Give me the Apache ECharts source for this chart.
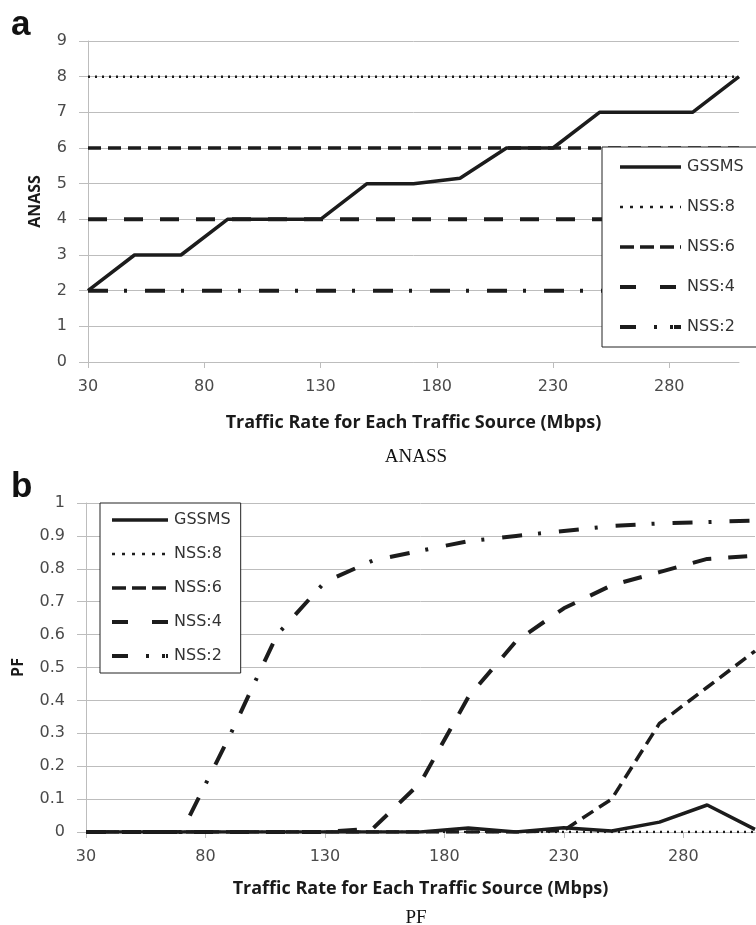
<!DOCTYPE html>
<html>
<head>
<meta charset="utf-8">
<script src="https://cdn.jsdelivr.net/npm/echarts@6/dist/echarts.min.js"></script>
<style>
  html, body { margin: 0; padding: 0; background: #fff; }
  #chart { width: 756px; height: 925px; }
</style>
</head>
<body>
<div id="chart"></div>
<script>
// traffic rate (Mbps) for each point
var rates = [30, 50, 70, 90, 110, 130, 150, 170, 190, 210, 230, 250, 270, 290, 310];
var seriesNames = ['GSSMS', 'NSS:8', 'NSS:6', 'NSS:4', 'NSS:2'];

// (a) ANASS
var anassGssms = [2, 3, 3, 4, 4, 4, 5, 5, 5.15, 6, 6, 7, 7, 7, 8];
var anassNss8 = [8, 8, 8, 8, 8, 8, 8, 8, 8, 8, 8, 8, 8, 8, 8];
var anassNss6 = [6, 6, 6, 6, 6, 6, 6, 6, 6, 6, 6, 6, 6, 6, 6];
var anassNss4 = [4, 4, 4, 4, 4, 4, 4, 4, 4, 4, 4, 4, 4, 4, 4];
var anassNss2 = [2, 2, 2, 2, 2, 2, 2, 2, 2, 2, 2, 2, 2, 2, 2];

// (b) PF
var pfGssms = [0, 0, 0, 0, 0, 0, 0, 0, 0.012, 0, 0.013, 0.003, 0.03, 0.082, 0.008];
var pfNss8 = [0, 0, 0, 0, 0, 0, 0, 0, 0, 0, 0, 0, 0, 0, 0];
var pfNss6 = [0, 0, 0, 0, 0, 0, 0, 0, 0, 0, 0.005, 0.1, 0.33, 0.44, 0.55];
var pfNss4 = [0, 0, 0, 0, 0, 0, 0.01, 0.15, 0.41, 0.58, 0.68, 0.75, 0.79, 0.83, 0.84];
var pfNss2 = [0, 0, 0, 0.29, 0.6, 0.76, 0.825, 0.855, 0.884, 0.9, 0.915, 0.93, 0.938, 0.942, 0.947];

var xTitle = 'Traffic Rate for Each Traffic Source (Mbps)';
var lineColor = '#1c1c1c';
var gridColor = '#bdbdbd';
var labelColor = '#4a4a4a';

var styles = [
    { width: 3.5, type: 'solid' },
    { width: 2.5, type: [2, 5] },
    { width: 3.5, type: [13, 7] },
    { width: 4, type: [19, 17] },
    { width: 4, type: [20, 16, 3, 18] }
];
// dash patterns as drawn inside the legend boxes
var legendDash = ['solid', [3, 7], [14, 6], [16, 24], [16, 18, 3, 13, 3, 1]];

function pairs(values) {
    return rates.map(function (r, i) { return [r, values[i]]; });
}

function buildSeries(list, idx) {
    // draw GSSMS last so it sits on top
    var out = [];
    for (var i = list.length - 1; i >= 0; i--) {
        out.push({
            name: seriesNames[i],
            type: 'line',
            xAxisIndex: idx,
            yAxisIndex: idx,
            symbol: 'none',
            data: pairs(list[i]),
            lineStyle: { color: lineColor, width: styles[i].width, type: styles[i].type },
            itemStyle: { color: lineColor },
            z: 10 - i
        });
    }
    return out;
}

function xAxisCfg(idx, gap) {
    return {
        type: 'value',
        gridIndex: idx,
        min: 30,
        max: 310,
        interval: 50,
        name: xTitle,
        nameLocation: 'middle',
        nameGap: gap,
        nameTextStyle: { fontFamily: 'Open Sans', fontWeight: 'bold', fontSize: 18, color: '#1a1a1a' },
        axisLine: { lineStyle: { color: gridColor, width: 1 } },
        axisTick: { show: true, length: 6, inside: false, lineStyle: { color: gridColor } },
        axisLabel: { showMaxLabel: false, margin: 17, fontFamily: '"DejaVu Sans"', fontSize: 16, color: labelColor },
        splitLine: { show: false }
    };
}

function yAxisCfg(idx, name, max, interval, gap) {
    return {
        type: 'value',
        gridIndex: idx,
        min: 0,
        max: max,
        interval: interval,
        name: name,
        nameLocation: 'middle',
        nameGap: gap,
        nameTextStyle: { fontFamily: 'Open Sans', fontWeight: 'bold', fontSize: 16, color: '#1a1a1a' },
        axisLine: { show: true, lineStyle: { color: gridColor, width: 1 } },
        axisTick: { show: true, length: 9, lineStyle: { color: gridColor } },
        axisLabel: { margin: 21, fontFamily: '"DejaVu Sans"', fontSize: 16, color: labelColor },
        splitLine: { show: true, lineStyle: { color: gridColor, width: 1 } }
    };
}

function legendCfg(left, top, itemWidth, itemGap, padding) {
    return {
        data: seriesNames.map(function (n, i) {
            return {
                name: n,
                itemStyle: { opacity: 0 },
                lineStyle: { color: lineColor, width: styles[i].width, type: legendDash[i], opacity: 1 }
            };
        }),
        orient: 'vertical',
        left: left,
        top: top,
        itemWidth: itemWidth,
        itemHeight: 14,
        itemGap: itemGap,
        padding: padding,
        backgroundColor: '#fff',
        borderColor: '#222',
        borderWidth: 1,
        borderRadius: 0,
        textStyle: { fontFamily: '"DejaVu Sans"', fontSize: 16, color: '#333', padding: [0, 0, 0, 1] },
        z: 20
    };
}

var chart = echarts.init(document.getElementById('chart'));
chart.setOption({
    animation: false,
    grid: [
        { left: 88, top: 41, width: 651, height: 321 },
        { left: 86, top: 503, width: 669, height: 329 }
    ],
    xAxis: [xAxisCfg(0, 52), xAxisCfg(1, 48)],
    yAxis: [yAxisCfg(0, 'ANASS', 9, 1, 45), yAxisCfg(1, 'PF', 1, 0.1, 60)],
    legend: [
        legendCfg(602, 147, 61, 24, [12, 14, 12, 16]),
        legendCfg(100, 503, 56, 18, [9, 10, 9, 10])
    ],
    graphic: [
        { type: 'text', left: 11, top: 8, style: { text: 'a', font: 'bold 35px "Liberation Sans"', fill: '#111' } },
        { type: 'text', left: 11, top: 470, style: { text: 'b', font: 'bold 35px "Liberation Sans"', fill: '#111' } },
        { type: 'text', x: 416, y: 457, style: { text: 'ANASS', font: '19px "Liberation Serif"', fill: '#111', align: 'center', verticalAlign: 'middle' } },
        { type: 'text', x: 416, y: 918, style: { text: 'PF', font: '19px "Liberation Serif"', fill: '#111', align: 'center', verticalAlign: 'middle' } }
    ],
    series: buildSeries([anassGssms, anassNss8, anassNss6, anassNss4, anassNss2], 0)
        .concat(buildSeries([pfGssms, pfNss8, pfNss6, pfNss4, pfNss2], 1))
});
</script>
</body>
</html>
